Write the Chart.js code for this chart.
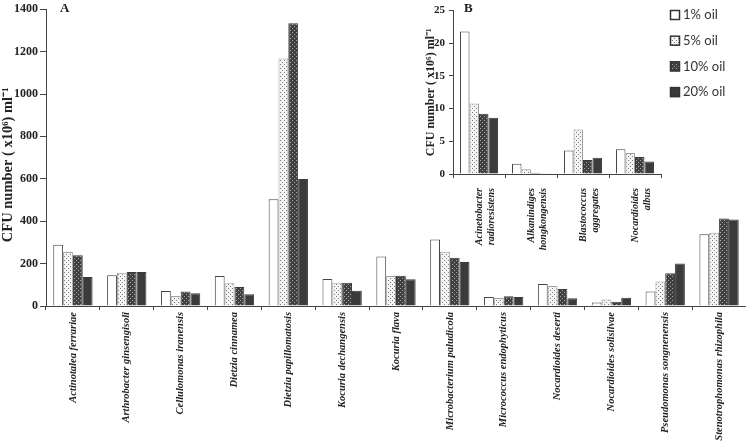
<!DOCTYPE html>
<html>
<head>
<meta charset="utf-8">
<script src="https://cdn.jsdelivr.net/npm/chart.js@4.4.1/dist/chart.umd.min.js"></script>
<style>
html,body{margin:0;padding:0;background:#fff;}
#wrap{position:relative;width:746px;height:443px;}
#main{position:absolute;left:0;top:0;}
#inset{position:absolute;left:400px;top:0;}
</style>
</head>
<body>
<div id="wrap">
<canvas id="main" width="746" height="443"></canvas>
<canvas id="inset" width="346" height="260"></canvas>
</div>
<script>
// ---- Data (panel A) ----
const categoriesA = ["Actinotalea ferrariae","Arthrobacter ginsengisoli","Cellulomonas iranensis","Dietzia cinnamea","Dietzia papillomatosis","Kocuria dechangensis","Kocuria flava","Microbacterium paludicola","Micrococcus endophyticus","Nocardioides deserti","Nocardioides solisilvae","Pseudomonas songnenensis","Stenotrophomonas rhizophila"];
const oil1A  = [289,145,71,141,504,127,233,314,42,104,17,68,339];
const oil5A  = [255,157,47,107,1168,110,141,256,38,94,31,116,346];
const oil10A = [239,160,68,90,1334,110,143,228,46,80,20,154,413];
const oil20A = [137,160,60,55,599,72,126,207,42,36,39,201,408];
const ticksA = [0,200,400,600,800,1000,1200,1400];

// ---- Data (panel B) ----
const categoriesB = [["Acinetobacter","radioresistens"],["Alkanindiges","hongkongensis"],["Blastococcus","aggregates"],["Nocardioides","albus"]];
const oil1B  = [21.8,1.57,3.6,3.8];
const oil5B  = [10.8,0.74,6.8,3.2];
const oil10B = [9.2,0.2,2.15,2.6];
const oil20B = [8.6,0.05,2.5,1.9];
const ticksB = [0,5,10,15,20,25];

const seriesNames = ["1% oil","5% oil","10% oil","20% oil"];
const yTitle = "CFU number ( x10\u2076) ml\u207B\u00B9";

function makePattern(bg, dot, coords, size){
  const c = document.createElement('canvas');
  c.width = size; c.height = size;
  const x = c.getContext('2d');
  x.fillStyle = bg; x.fillRect(0,0,size,size);
  x.fillStyle = dot;
  coords.forEach(p => x.fillRect(p[0],p[1],1,1));
  return x.createPattern(c,'repeat');
}
const pat5 = makePattern('#f4f4f4','#7a7a7a',[[0,0],[2,2]],4);
const pat10 = makePattern('#404040','#a8a8a8',[[0,0],[2,2]],4);
const fills = ['#ffffff', pat5, pat10, '#3b3b3b'];
const borders = ['#444444','#a0a0a0','#3a3a3a','#3b3b3b'];

const serifBold = {family:"'Liberation Serif','Times New Roman',serif", weight:'bold'};

function datasets(arrs){
  return arrs.map((d,i)=>({
    label: seriesNames[i],
    data: d,
    backgroundColor: fills[i],
    borderColor: borders[i],
    borderWidth: 1,
    categoryPercentage: 0.73,
    barPercentage: 1.0
  }));
}

const letterPlugin = {
  id:'letter',
  afterDraw(chart, args, opts){
    const c = chart.ctx;
    c.save();
    c.font = "bold 13px 'Liberation Serif', serif";
    c.fillStyle = '#222';
    c.textBaseline = 'middle';
    c.textAlign = 'left';
    c.fillText(opts.text, opts.x, opts.y);
    c.restore();
  }
};

// legend drawn from the chart's own datasets
const boxLegend = {
  id:'boxLegend',
  afterDraw(chart, args, opts){
    if(!opts.show) return;
    const c = chart.ctx;
    c.save();
    c.font = "13px Lato, 'Liberation Sans', sans-serif";
    c.textBaseline = 'middle';
    c.textAlign = 'left';
    chart.data.datasets.forEach((ds,i)=>{
      const y = opts.y + i*opts.step;
      c.fillStyle = ds.backgroundColor;
      c.fillRect(opts.x, y-5, 10, 10);
      c.strokeStyle = '#333';
      c.lineWidth = 1.5;
      c.strokeRect(opts.x+0.5, y-4.5, 9, 9);
      c.fillStyle = '#333';
      c.fillText(ds.label, opts.x+13, y);
    });
    c.restore();
  }
};

new Chart(document.getElementById('main'), {
  type:'bar',
  data:{ labels: categoriesA, datasets: datasets([oil1A,oil5A,oil10A,oil20A]) },
  plugins:[letterPlugin],
  options:{
    responsive:false, animation:false,
    layout:{padding:{top:4,right:0,left:0,bottom:0}},
    plugins:{ legend:{display:false}, tooltip:{enabled:false},
      letter:{text:'A', x:60, y:9} },
    scales:{
      x:{
        grid:{display:true, drawOnChartArea:false, drawTicks:true, tickLength:4, color:'#444', offset:true},
        border:{display:true, color:'#444', width:1},
        ticks:{autoSkip:false, maxRotation:90, minRotation:90, padding:2, color:'#222',
          font:{family:"'Liberation Serif',serif", weight:'bold', style:'italic', size:10.5}},
        afterFit(s){ s.height = 137; }
      },
      y:{
        min:0, max:1400,
        afterBuildTicks(s){ s.ticks = ticksA.map(v=>({value:v})); },
        grid:{display:true, drawOnChartArea:false, drawTicks:true, tickLength:6, color:'#444'},
        border:{display:true, color:'#444', width:1},
        ticks:{padding:2, color:'#222', font:{...serifBold, size:12}, callback:v=>String(v)},
        title:{display:true, text:yTitle + '\u00A0\u00A0\u00A0\u00A0', color:'#222', padding:{top:0,bottom:2}, font:{...serifBold, size:14.5}},
        afterFit(s){ s.width = 46; }
      }
    }
  }
});

new Chart(document.getElementById('inset'), {
  type:'bar',
  data:{ labels: categoriesB, datasets: datasets([oil1B,oil5B,oil10B,oil20B]) },
  plugins:[letterPlugin, boxLegend],
  options:{
    responsive:false, animation:false,
    layout:{padding:{top:0,right:85,left:0,bottom:0}},
    plugins:{
      tooltip:{enabled:false},
      legend:{display:false},
      letter:{text:'B', x:64, y:9},
      boxLegend:{show:true, x:270, y:15, step:25.7}
    },
    scales:{
      x:{
        grid:{display:true, drawOnChartArea:false, drawTicks:true, tickLength:4, color:'#444', offset:true},
        border:{display:true, color:'#444', width:1},
        ticks:{autoSkip:false, maxRotation:90, minRotation:90, padding:10, color:'#222',
          font:{family:"'Liberation Serif',serif", weight:'bold', style:'italic', size:10}},
        afterFit(s){ s.height = 86; }
      },
      y:{
        min:0, max:25,
        afterBuildTicks(s){ s.ticks = ticksB.map(v=>({value:v})); },
        grid:{display:true, drawOnChartArea:false, drawTicks:true, tickLength:4, color:'#444'},
        border:{display:true, color:'#444', width:1},
        ticks:{padding:4, color:'#222', font:{...serifBold, size:11}, callback:v=>String(v)},
        title:{display:true, text:yTitle, color:'#222', padding:{top:24,bottom:0}, font:{...serifBold, size:12}},
        afterFit(s){ s.width = 53; }
      }
    }
  }
});
</script>
</body>
</html>
